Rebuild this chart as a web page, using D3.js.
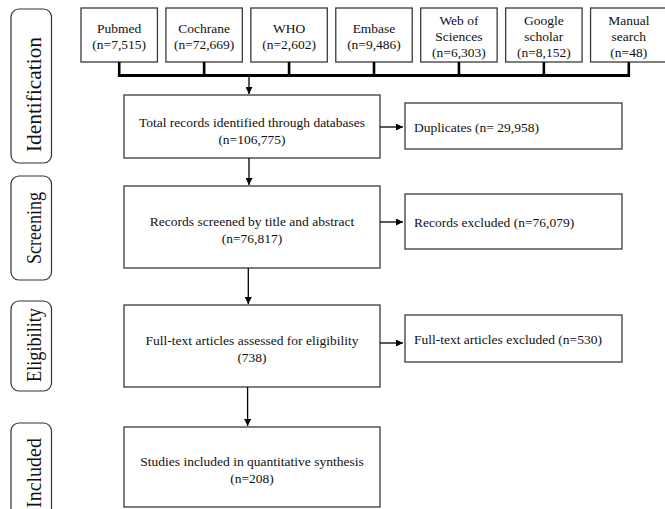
<!DOCTYPE html>
<html>
<head>
<meta charset="utf-8">
<script src="https://cdn.jsdelivr.net/npm/d3@7"></script>
<style>
  html, body { margin: 0; padding: 0; background: #fff; }
  svg { display: block; font-family: "Liberation Serif", "Times New Roman", serif; }
</style>
</head>
<body>
<svg id="chart" width="665" height="509"></svg>
<script>
// ---------------- DATA ----------------
const sources = ["Pubmed", "Cochrane", "WHO", "Embase", "Web of Sciences", "Google scholar", "Manual search"];
const sourceLines = [["Pubmed"], ["Cochrane"], ["WHO"], ["Embase"], ["Web of", "Sciences"], ["Google", "scholar"], ["Manual", "search"]];
const sourceCounts = [7515, 72669, 2602, 9486, 6303, 8152, 48];

const stages = ["Identification", "Screening", "Eligibility", "Included"];
const stepLabels = [
  "Total records identified through databases",
  "Records screened by title and abstract",
  "Full-text articles assessed for eligibility",
  "Studies included in quantitative synthesis"
];
const stepCounts = [106775, 76817, 738, 208];
const stepPrefix = ["n=", "n=", "", "n="];

const exclLabels = ["Duplicates", "Records excluded", "Full-text articles excluded"];
const exclCounts = [29958, 76079, 530];
const exclPrefix = ["n= ", "n=", "n="];

// ---------------- LAYOUT ----------------
const svg = d3.select("#chart");
const fmt = d3.format(",");
const FS = 13.5;
const boxStroke = "#3a3a3a";

svg.append("defs").append("marker")
  .attr("id", "arr").attr("viewBox", "0 0 10 10")
  .attr("refX", 10).attr("refY", 5)
  .attr("markerWidth", 7).attr("markerHeight", 7)
  .attr("markerUnits", "userSpaceOnUse")
  .attr("orient", "auto")
  .append("path").attr("d", "M0,0L10,5L0,10Z").attr("fill", "#000");

// source boxes via band scale
const xSrc = d3.scaleBand().domain(sources).range([81, 667]).paddingInner(0.1).paddingOuter(0);
const srcTop = 8, srcBottom = 62, barY = 75.5;

const stageY = d3.scaleOrdinal().domain(stages).range([95, 186, 305, 427]);
const stageH = d3.scaleOrdinal().domain(stages).range([63, 82, 82, 80]);
const mainX0 = 124, mainX1 = 380, flowX = 249;

const pillTop = d3.scaleOrdinal().domain(stages).range([9, 176, 301, 423]);
const pillBot = d3.scaleOrdinal().domain(stages).range([163, 280, 391, 530]);
const pillLabelY = d3.scaleOrdinal().domain(stages).range([94.5, 228, 345, 473]);
const pillLabelLen = d3.scaleOrdinal().domain(stages).range([115, 72, 74, 70]);

const exclTop = d3.scaleOrdinal().domain(exclLabels).range([103, 194, 315]);
const exclH = d3.scaleOrdinal().domain(exclLabels).range([46, 55, 47]);
const exclX0 = 405, exclX1 = 622;
const exclArrowY = [127, 222, 343];

// ---- Stage pills ----
const pills = svg.append("g");
stages.forEach(s => {
  pills.append("rect")
    .attr("x", 11).attr("y", pillTop(s))
    .attr("width", 40.5).attr("height", pillBot(s) - pillTop(s))
    .attr("rx", 8).attr("ry", 8)
    .attr("fill", "#fff").attr("stroke", "#333").attr("stroke-width", 1.2);
  pills.append("text")
    .attr("transform", `translate(34,${pillLabelY(s)}) rotate(-90)`)
    .attr("text-anchor", "middle").attr("dominant-baseline", "central")
    .attr("font-size", 20).attr("fill", "#111")
    .attr("textLength", pillLabelLen(s)).attr("lengthAdjust", "spacingAndGlyphs")
    .text(s);
});

// ---- Source boxes ----
const srcG = svg.append("g");
sources.forEach((s, i) => {
  const x = xSrc(s), bw = xSrc.bandwidth();
  srcG.append("rect")
    .attr("x", x).attr("y", srcTop).attr("width", bw).attr("height", srcBottom - srcTop)
    .attr("fill", "#fff").attr("stroke", boxStroke).attr("stroke-width", 1.3);
  const lines = sourceLines[i].concat([`(n=${fmt(sourceCounts[i])})`]);
  const cy = (srcTop + srcBottom) / 2 + 1;
  const lh = 16;
  lines.forEach((ln, j) => {
    srcG.append("text")
      .attr("x", x + bw / 2)
      .attr("y", cy + (j - (lines.length - 1) / 2) * lh)
      .attr("text-anchor", "middle").attr("dominant-baseline", "central")
      .attr("font-size", FS).attr("fill", "#111").text(ln);
  });
  srcG.append("line")
    .attr("x1", x + bw / 2).attr("x2", x + bw / 2)
    .attr("y1", srcBottom).attr("y2", barY)
    .attr("stroke", "#000").attr("stroke-width", 2.6);
});
const firstC = xSrc(sources[0]) + xSrc.bandwidth() / 2;
const lastC = xSrc(sources[sources.length - 1]) + xSrc.bandwidth() / 2;
srcG.append("line")
  .attr("x1", firstC - 1.3).attr("x2", lastC + 1.3)
  .attr("y1", barY).attr("y2", barY)
  .attr("stroke", "#000").attr("stroke-width", 3);
svg.append("line")
  .attr("x1", flowX).attr("x2", flowX)
  .attr("y1", barY + 1.5).attr("y2", stageY(stages[0]) - 1)
  .attr("stroke", "#000").attr("stroke-width", 1.3).attr("marker-end", "url(#arr)");

// ---- Main flow boxes ----
const mainG = svg.append("g");
stages.forEach((s, i) => {
  const top = stageY(s), h = stageH(s);
  mainG.append("rect")
    .attr("x", mainX0).attr("y", top).attr("width", mainX1 - mainX0).attr("height", h)
    .attr("fill", "#fff").attr("stroke", boxStroke).attr("stroke-width", 1.3);
  const cx = (mainX0 + mainX1) / 2;
  const cy = top + h / 2;
  const off = i === 0 ? -4 : -6;
  mainG.append("text")
    .attr("x", cx).attr("y", cy + off)
    .attr("text-anchor", "middle").attr("dominant-baseline", "central")
    .attr("font-size", FS).attr("fill", "#111").text(stepLabels[i]);
  mainG.append("text")
    .attr("x", cx).attr("y", cy + off + 17)
    .attr("text-anchor", "middle").attr("dominant-baseline", "central")
    .attr("font-size", FS).attr("fill", "#111")
    .text(`(${stepPrefix[i]}${fmt(stepCounts[i])})`);
  if (i < stages.length - 1) {
    mainG.append("line")
      .attr("x1", flowX - i * 0.7).attr("x2", flowX - i * 0.7)
      .attr("y1", top + h).attr("y2", stageY(stages[i + 1]) - 1)
      .attr("stroke", "#000").attr("stroke-width", 1.3).attr("marker-end", "url(#arr)");
  }
});

// ---- Exclusion boxes ----
const exG = svg.append("g");
exclLabels.forEach((e, i) => {
  const top = exclTop(e), h = exclH(e);
  exG.append("rect")
    .attr("x", exclX0).attr("y", top).attr("width", exclX1 - exclX0).attr("height", h)
    .attr("fill", "#fff").attr("stroke", boxStroke).attr("stroke-width", 1.3);
  exG.append("text")
    .attr("x", exclX0 + 9).attr("y", top + h / 2 + 1)
    .attr("dominant-baseline", "central")
    .attr("font-size", FS).attr("fill", "#111")
    .text(`${e} (${exclPrefix[i]}${fmt(exclCounts[i])})`);
  exG.append("line")
    .attr("x1", mainX1).attr("x2", exclX0 - 2)
    .attr("y1", exclArrowY[i]).attr("y2", exclArrowY[i])
    .attr("stroke", "#000").attr("stroke-width", 1.3).attr("marker-end", "url(#arr)");
});
</script>
</body>
</html>
